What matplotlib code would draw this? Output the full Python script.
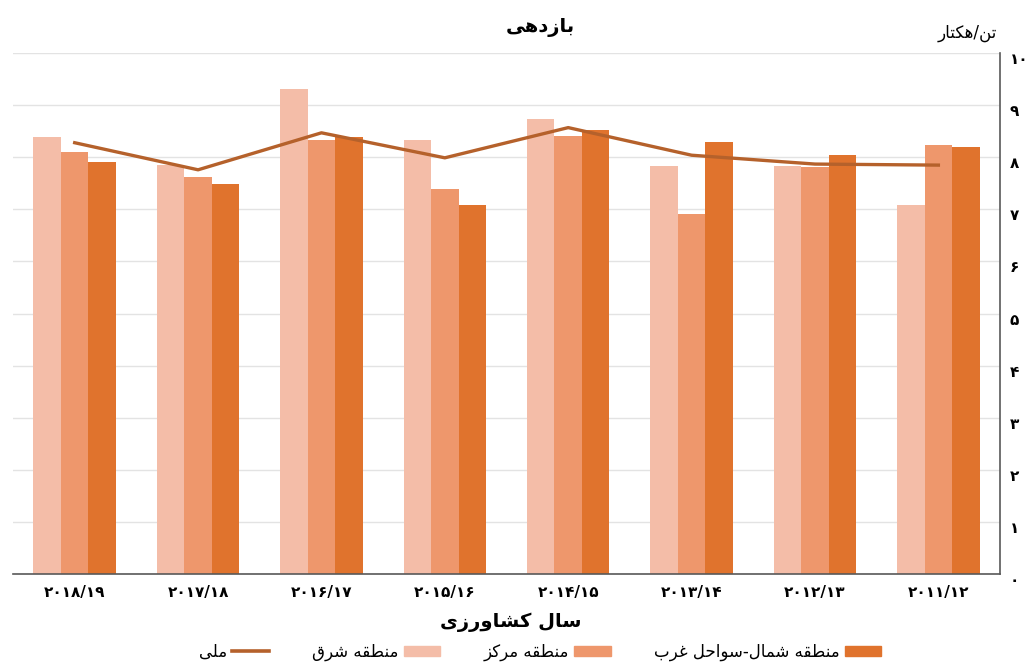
import matplotlib
matplotlib.use("Agg")
import matplotlib.pyplot as plt
from matplotlib.patches import Patch
from matplotlib.lines import Line2D
from matplotlib.transforms import ScaledTranslation
import numpy as np

# ---------------- data (chronological; axis is drawn right-to-left) ----------------
years = ["۲۰۱۱/۱۲", "۲۰۱۲/۱۳", "۲۰۱۳/۱۴", "۲۰۱۴/۱۵", "۲۰۱۵/۱۶", "۲۰۱۶/۱۷", "۲۰۱۷/۱۸", "۲۰۱۸/۱۹"]
north_west = [8.20, 8.04, 8.29, 8.53, 7.09, 8.39, 7.49, 7.91]   # منطقه شمال-سواحل غرب
center = [8.23, 7.81, 6.92, 8.40, 7.40, 8.33, 7.63, 8.10]       # منطقه مرکز
east = [7.09, 7.83, 7.84, 8.74, 8.34, 9.32, 7.85, 8.39]         # منطقه شرق
national = [7.85, 7.87, 8.04, 8.57, 7.99, 8.47, 7.76, 8.28]     # ملی
series_names = ["منطقه شمال-سواحل غرب", "منطقه مرکز", "منطقه شرق"]
line_name = "ملی"
yticks = list(range(0, 11))
ytick_labels = ["۰", "۱", "۲", "۳", "۴", "۵", "۶", "۷", "۸", "۹", "۱۰"]
title = "بازدهی"
unit = "تن/هکتار"
xlabel = "سال کشاورزی"

# ---------------- minimal Persian shaping for matplotlib ----------------
FORMS = {  # iso, fin, ini, med
    'ا': ('\uFE8D', '\uFE8E', None, None),
    'آ': ('\uFE81', '\uFE82', None, None),
    'ب': ('\uFE8F', '\uFE90', '\uFE91', '\uFE92'),
    'پ': ('\uFB56', '\uFB57', '\uFB58', '\uFB59'),
    'ت': ('\uFE95', '\uFE96', '\uFE97', '\uFE98'),
    'ح': ('\uFEA1', '\uFEA2', '\uFEA3', '\uFEA4'),
    'د': ('\uFEA9', '\uFEAA', None, None),
    'ر': ('\uFEAD', '\uFEAE', None, None),
    'ز': ('\uFEAF', '\uFEB0', None, None),
    'س': ('\uFEB1', '\uFEB2', '\uFEB3', '\uFEB4'),
    'ش': ('\uFEB5', '\uFEB6', '\uFEB7', '\uFEB8'),
    'ط': ('\uFEC1', '\uFEC2', '\uFEC3', '\uFEC4'),
    'غ': ('\uFECD', '\uFECE', '\uFECF', '\uFED0'),
    'ق': ('\uFED5', '\uFED6', '\uFED7', '\uFED8'),
    'ک': ('\uFB8E', '\uFB8F', '\uFB90', '\uFB91'),
    'ل': ('\uFEDD', '\uFEDE', '\uFEDF', '\uFEE0'),
    'م': ('\uFEE1', '\uFEE2', '\uFEE3', '\uFEE4'),
    'ن': ('\uFEE5', '\uFEE6', '\uFEE7', '\uFEE8'),
    'ه': ('\uFEE9', '\uFEEA', '\uFEEB', '\uFEEC'),
    'و': ('\uFEED', '\uFEEE', None, None),
    'ی': ('\uFBFC', '\uFBFD', '\uFBFE', '\uFBFF'),
}


def dual(c):
    return c in FORMS and FORMS[c][2] is not None


def shape(text):
    out = []
    n = len(text)
    for i, c in enumerate(text):
        if c not in FORMS:
            out.append(c)
            continue
        prev_join = i > 0 and dual(text[i - 1])
        next_join = dual(c) and i + 1 < n and text[i + 1] in FORMS
        iso, fin, ini, med = FORMS[c]
        if prev_join and next_join:
            out.append(med)
        elif prev_join:
            out.append(fin)
        elif next_join:
            out.append(ini)
        else:
            out.append(iso)
    return "".join(out)[::-1]


# ---------------- style ----------------
plt.rcParams['font.family'] = ['DejaVu Sans']
c_dark = "#E0732D"
c_mid = "#EE976C"
c_light = "#F4BDA8"
c_line = "#B5612B"

fig = plt.figure(figsize=(10.31, 6.64), dpi=100)
ax = fig.add_axes([0.0126, 0.1355, 0.9574, 0.7845])

x = np.arange(len(years))
w = 0.223
ax.bar(x - w, north_west, w, color=c_dark, zorder=2)
ax.bar(x, center, w, color=c_mid, zorder=2)
ax.bar(x + w, east, w, color=c_light, zorder=2)
ax.plot(x, national, color=c_line, lw=2.4, zorder=3)

ax.set_xlim(len(years) - 0.5, -0.5)
ax.set_ylim(0, 10)
ax.set_yticks(yticks)
ax.set_yticklabels(ytick_labels, fontsize=11, fontweight='bold')
ax.yaxis.tick_right()
ax.tick_params(axis='y', length=0, pad=7)
shift = ScaledTranslation(0, -5 / 100, fig.dpi_scale_trans)
for t in ax.yaxis.get_major_ticks():
    t.label1.set_transform(t.label1.get_transform() + shift)
    t.label2.set_transform(t.label2.get_transform() + shift)
ax.set_xticks(x)
ax.set_xticklabels(years, fontsize=11, fontweight='bold')
ax.tick_params(axis='x', length=0, pad=8)
ax.grid(axis='y', color="#E3E3E3", lw=1, zorder=0)
ax.set_axisbelow(True)
for s in ['top', 'left']:
    ax.spines[s].set_visible(False)
ax.spines['right'].set_color("#595959")
ax.spines['bottom'].set_color("#595959")
ax.spines['right'].set_linewidth(1.2)
ax.spines['bottom'].set_linewidth(1.2)

fig.text(0.524, 0.958, shape(title), ha='center', va='center', fontsize=14, fontweight='bold')
fig.text(0.938, 0.950, shape(unit), ha='center', va='center', fontsize=12)
fig.text(0.495, 0.063, shape(xlabel), ha='center', va='center', fontsize=14, fontweight='bold')

handles = [Line2D([0], [0], color=c_line, lw=2.6),
           Patch(color=c_light), Patch(color=c_mid), Patch(color=c_dark)]
labels = [shape(line_name), shape(series_names[2]), shape(series_names[1]), shape(series_names[0])]
fig.legend(handles, labels, loc='center', bbox_to_anchor=(0.524, 0.018), ncol=4,
           frameon=False, markerfirst=False, fontsize=12, handlelength=2.2,
           handleheight=0.6, columnspacing=2.6, handletextpad=0.3)

fig.savefig("out.png", dpi=100)
